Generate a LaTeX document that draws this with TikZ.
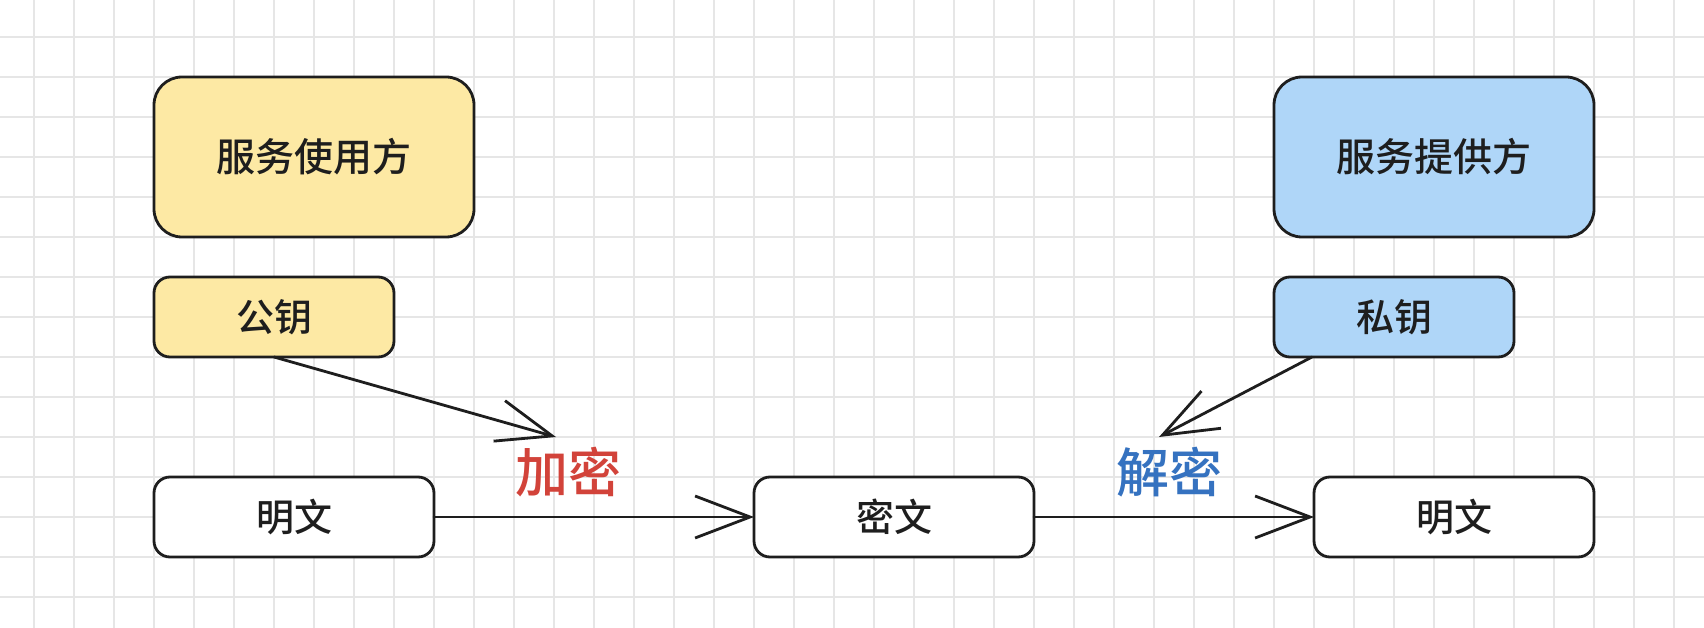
\documentclass[tikz,border=0pt]{standalone}
\usepackage{fontspec}
\usepackage{tikz}
\usetikzlibrary{arrows.meta,positioning}
\newfontfamily\cjk{Noto Sans CJK SC}[BoldFont={Noto Sans CJK SC Medium}]
\definecolor{gridgray}{HTML}{E6E6E6}
\definecolor{userfill}{HTML}{FDE9A4}
\definecolor{providerfill}{HTML}{AFD6F8}
\definecolor{ink}{HTML}{1E1E1E}
\definecolor{encred}{HTML}{D2433A}
\definecolor{decblue}{HTML}{3572C0}
\tikzset{party/.style={draw=ink,line width=2.8pt,rounded corners=28pt,outer sep=0pt,inner sep=0pt,minimum width=320pt,minimum height=160pt,text=ink,font=\cjk\bfseries\fontsize{39}{40}\selectfont},keybox/.style={draw=ink,line width=2.8pt,rounded corners=16pt,outer sep=0pt,inner sep=0pt,minimum width=240pt,minimum height=80pt,text=ink,font=\cjk\bfseries\fontsize{38}{40}\selectfont},msgbox/.style={keybox,fill=white,minimum width=280pt},flow/.style={-{Straight Barb[length=55pt,width=42pt]},line width=2.8pt,draw=ink,line cap=round,line join=round},oplabel/.style={font=\cjk\bfseries\fontsize{53}{56}\selectfont},gridline/.style={draw=gridgray,line width=2pt}}

\begin{document}
\begin{tikzpicture}[x=1pt,y=-1pt]
\fill[white] (0,0) rectangle (1704,628);
\useasboundingbox (0,0) rectangle (1704,628);
\foreach \gx in {34,74,...,1674} \draw[gridline] (\gx,0)--(\gx,628);
\foreach \gy in {37,77,...,597} \draw[gridline] (0,\gy)--(1704,\gy);
\node[party,fill=userfill] (user) at (314,157) {服务使用方};
\node[keybox,fill=userfill,below right=40pt and 0pt of user.south west] (pubkey) {公钥};
\node[msgbox,below right=120pt and 0pt of pubkey.south west] (plain) {明文};
\node[msgbox,right=320pt of plain] (cipher) {密文};
\node[msgbox,right=280pt of cipher] (plainout) {明文};
\node[party,fill=providerfill] (provider) at (1434,157) {服务提供方};
\node[keybox,fill=providerfill,below right=40pt and 0pt of provider.south west] (privkey) {私钥};
\coordinate (enctip) at (556,437);
\coordinate (dectip) at (1159,437);
\node[oplabel,text=encred] (enc) at (568,472) {加密};
\node[oplabel,text=decblue] (dec) at (1169,472) {解密};
\draw[flow] (pubkey.south)--(enctip);
\draw[flow] ([xshift=38pt]privkey.south west)--(dectip);
\draw[flow] (plain)--(cipher);
\draw[flow] (cipher)--(plainout);
\end{tikzpicture}
\end{document}
